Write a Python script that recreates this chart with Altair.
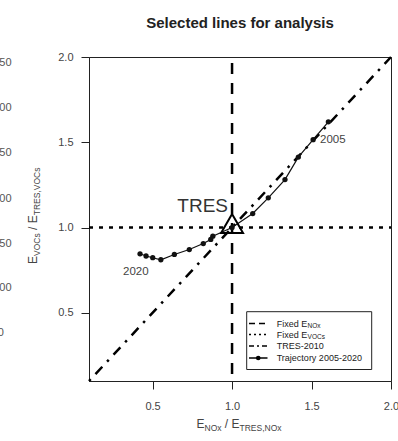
import altair as alt
import pandas as pd

FONT = "Liberation Sans"

# ---- data ----
years = list(range(2005, 2021))
traj_x = [1.606, 1.510, 1.417, 1.333, 1.228, 1.130, 1.000, 0.879, 0.866, 0.819,
          0.731, 0.637, 0.552, 0.501, 0.459, 0.421]
traj_y = [1.620, 1.515, 1.413, 1.281, 1.174, 1.082, 1.000, 0.949, 0.930, 0.906,
          0.871, 0.842, 0.811, 0.823, 0.833, 0.846]

fixed_nox_x = [1.0, 1.0]
fixed_nox_y = [1.965, 0.1]
fixed_voc_x = [0.1, 2.0]
fixed_voc_y = [1.0, 1.0]
tres_x = [0.1, 2.0]
tres_y = [0.1, 2.0]
tres_point_x = [1.0]
tres_point_y = [1.0]

axis_domain = [0.1, 2.0]
tick_values = [0.5, 1.0, 1.5, 2.0]

xs = alt.Scale(domain=axis_domain, nice=False, zero=False)
ys = alt.Scale(domain=axis_domain, nice=False, zero=False)

xax = alt.Axis(values=tick_values, format=".1f", title=None, grid=False,
               tickSize=8, labelPadding=11, labelFontSize=11, labelColor="#444",
               labelFont=FONT, domainColor="#222", tickColor="#222", labelFlush=False)
yax = alt.Axis(values=tick_values, format=".1f", title=None, grid=False,
               tickSize=8, labelPadding=8, labelFontSize=11, labelColor="#444",
               labelFont=FONT, domainColor="#222", tickColor="#222", labelFlush=False)


def line_layer(xv, yv, dash, width=2.5):
    df = pd.DataFrame({"x": xv, "y": yv, "o": list(range(len(xv)))})
    kw = dict(color="black", strokeWidth=width)
    if dash:
        kw["strokeDash"] = dash
    return alt.Chart(df).mark_line(**kw).encode(
        x=alt.X("x:Q", scale=xs, axis=xax),
        y=alt.Y("y:Q", scale=ys, axis=yax),
        order="o:Q",
    )


vline = line_layer(fixed_nox_x, fixed_nox_y, [11, 9])
hline = line_layer(fixed_voc_x, fixed_voc_y, [4, 6])
diag = line_layer(tres_x, tres_y, [2.5, 7, 10, 7])

traj_df = pd.DataFrame({"year": years, "x": traj_x, "y": traj_y})
traj_line = alt.Chart(traj_df).mark_line(color="#111", strokeWidth=1.2).encode(
    x=alt.X("x:Q", scale=xs, axis=xax),
    y=alt.Y("y:Q", scale=ys, axis=yax),
    order="year:Q",
)
traj_pts = alt.Chart(traj_df).mark_point(filled=True, color="#111", size=28, opacity=1).encode(
    x=alt.X("x:Q", scale=xs, axis=xax),
    y=alt.Y("y:Q", scale=ys, axis=yax),
)

tri_df = pd.DataFrame({"x": tres_point_x, "y": tres_point_y})
tri = alt.Chart(tri_df).mark_point(shape="triangle-up", size=480, filled=False,
                                   color="black", strokeWidth=2, opacity=1,
                                   yOffset=-4).encode(
    x=alt.X("x:Q", scale=xs, axis=xax),
    y=alt.Y("y:Q", scale=ys, axis=yax),
)

one = pd.DataFrame({"k": [0]})


def txt(s, px, py, size, color="#222", align="left", baseline="alphabetic",
        angle=0, weight="normal"):
    return alt.Chart(one).mark_text(text=s, fontSize=size, color=color, align=align,
                                    baseline=baseline, angle=angle,
                                    fontWeight=weight, font=FONT).encode(
        x=alt.value(px), y=alt.value(py))


texts = [
    txt("Selected lines for analysis", 151, -29, 15, color="#222", align="center", weight="bold"),
    txt("TRES", 139, 155, 19, color="#333", align="right"),
    txt("2005", 231, 86, 11.5, color="#444"),
    txt("2020", 34, 218, 11.5, color="#444"),
    # x title
    txt("E", 107.5, 371, 12, color="#444"),
    txt("NOx", 115.5, 373.5, 8.5, color="#444"),
    txt("/ E", 135.8, 371, 12, color="#444"),
    txt("TRES,NOx", 150.5, 373.5, 8.5, color="#444"),
    # y title (rotated)
    txt("E", -52, 207, 12, color="#444", angle=270),
    txt("VOCs", -49.5, 199, 8.5, color="#444", angle=270),
    txt("/ E", -52, 173, 12, color="#444", angle=270),
    txt("TRES,VOCs", -49.5, 158.3, 8.5, color="#444", angle=270),
]

# fragments of neighbouring panel tick labels at left edge
frag_labels = ["350", "300", "250", "200", "150", "100", "50"]
frag_y = [6, 51, 96, 142, 187, 231, 276]
frag_x = [-77.5, -77.5, -77.5, -77.5, -77.5, -77.5, -85]
for s, fx, fy in zip(frag_labels, frag_x, frag_y):
    texts.append(txt(s, fx, fy, 11, color="#555", align="right", baseline="middle"))

# ---- legend (manual) ----
legend_box = alt.Chart(one).mark_rect(fill="white", stroke="#222", strokeWidth=1).encode(
    x=alt.value(157.7), x2=alt.value(282.7), y=alt.value(254.7), y2=alt.value(312.5))

row_y = [266.5, 277.5, 289, 301]
lx1, lx2 = 160, 178.5


def leg_rule(yv, dash):
    kw = dict(color="black", strokeWidth=1.5)
    if dash:
        kw["strokeDash"] = dash
    return alt.Chart(one).mark_rule(**kw).encode(
        x=alt.value(lx1), x2=alt.value(lx2), y=alt.value(yv))


legend = [
    legend_box,
    leg_rule(row_y[0], [6, 4]),
    leg_rule(row_y[1], [2, 3]),
    leg_rule(row_y[2], [5, 3, 2, 3]),
    leg_rule(row_y[3], None),
    alt.Chart(one).mark_point(filled=True, color="black", size=22, opacity=1).encode(
        x=alt.value((lx1 + lx2) / 2), y=alt.value(row_y[3])),
    txt("Fixed E", 187.7, row_y[0], 9, baseline="middle"),
    txt("NOx", 218.6, row_y[0] + 2, 6.5, baseline="middle"),
    txt("Fixed E", 187.7, row_y[1], 9, baseline="middle"),
    txt("VOCs", 218.6, row_y[1] + 2, 6.5, baseline="middle"),
    txt("TRES-2010", 187.7, row_y[2], 9, baseline="middle"),
    txt("Trajectory 2005-2020", 187.7, row_y[3], 9, baseline="middle"),
]

chart = alt.layer(vline, hline, diag, traj_line, traj_pts, tri, *texts, *legend).properties(
    width=302, height=324,
    padding={"left": 89, "top": 57, "right": 7, "bottom": 60},
    autosize=alt.AutoSizeParams(type="none"),
    background="white",
).configure_view(stroke="#222", strokeWidth=1)

chart.save("out.html", embed_options={"renderer": "svg", "actions": False})
